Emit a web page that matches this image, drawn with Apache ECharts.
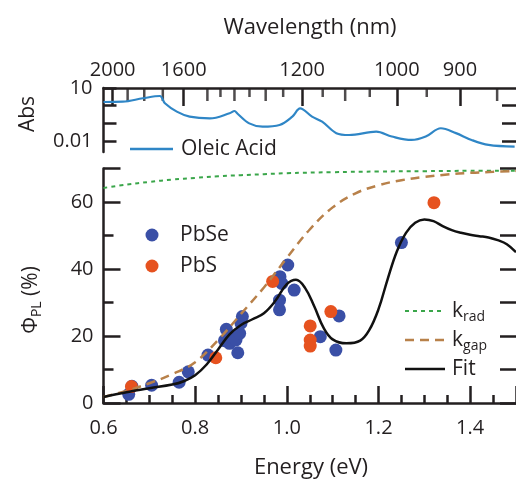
<!DOCTYPE html>
<html>
<head>
<meta charset="utf-8">
<script src="https://cdn.jsdelivr.net/npm/echarts@6/dist/echarts.min.js"></script>
<style>
  html, body { margin: 0; padding: 0; background: #fff; }
  #chart { width: 516px; height: 487px; }
</style>
</head>
<body>
<div id="chart"></div>
<script>
// Photoluminescence quantum yield vs photon energy, with the ligand absorption on top.
const HC = 1240; // eV·nm

// Bottom panel axis settings
const energyMin = 0.6, energyMax = 1.5, energyStep = 0.2;
const phiMin = 0, phiMax = 70, phiStep = 20;

// Top panel: wavelength ticks (nm) and absorbance ticks
const wavelengthMajor = [2000, 1600, 1200, 1000, 900];
const wavelengthMedium = [1900, 1800, 1700, 1500, 1400, 1300, 1100, 850];
const wavelengthMinor = [1450, 1350, 1250, 1150, 1050, 950];
const absTicks = [10, 1, 0.1, 0.01];
const absLabels = [10, 0.01];

// Measured PL quantum yields
const pbseEnergy = [0.655, 0.662, 0.705, 0.765, 0.785, 0.828, 0.864, 0.868, 0.875, 0.881, 0.889, 0.893, 0.897, 0.900, 0.903,
                    0.984, 0.984, 0.985, 0.989, 1.002, 1.016, 1.073, 1.107, 1.114, 1.250];
const pbsePhi =    [2.6, 5.0, 5.3, 6.2, 9.3, 14.3, 18.6, 22.0, 17.8, 19.5, 18.8, 15.0, 20.8, 23.8, 25.8,
                    27.8, 30.7, 37.7, 35.7, 41.2, 33.7, 19.8, 15.8, 26.0, 47.9];
const pbsEnergy = [0.661, 0.845, 0.969, 1.051, 1.051, 1.051, 1.096, 1.321];
const pbsPhi =    [4.9, 13.5, 36.3, 23.0, 18.8, 17.0, 27.3, 59.8];

// Model curves
const kradEnergy = [0.6, 0.65, 0.7, 0.75, 0.8, 0.85, 0.9, 0.95, 1.0, 1.1, 1.2, 1.3, 1.4, 1.5];
const kradPhi =    [64.2, 65.2, 66.0, 66.7, 67.2, 67.7, 68.0, 68.3, 68.6, 68.9, 69.1, 69.2, 69.3, 69.3];
const kgapEnergy = [0.6, 0.65, 0.7, 0.75, 0.8, 0.85, 0.9, 0.95, 1.0, 1.05, 1.1, 1.15, 1.2, 1.25, 1.3, 1.35, 1.4, 1.45, 1.5];
const kgapPhi =    [1.8, 3.6, 5.9, 8.6, 12.2, 18.8, 26.6, 34.5, 43.3, 51.8, 58.4, 62.6, 65.0, 66.5, 67.5, 68.2, 68.7, 69.0, 69.3];
const fitEnergy = [0.6, 0.65, 0.7, 0.75, 0.775, 0.8, 0.825, 0.85, 0.875, 0.9, 0.925, 0.95, 0.975, 1.0, 1.02, 1.04, 1.06, 1.08,
                   1.1, 1.13, 1.16, 1.18, 1.2, 1.22, 1.24, 1.26, 1.28, 1.3, 1.32, 1.34, 1.36, 1.38, 1.4, 1.42, 1.44, 1.46, 1.48, 1.5];
const fitPhi =    [1.8, 3.2, 4.4, 5.5, 6.5, 8.3, 11.5, 16.0, 20.5, 23.3, 25.0, 26.8, 30.5, 35.5, 36.8, 34.3, 28.8, 22.5,
                   19.0, 17.8, 18.6, 21.8, 28.0, 37.0, 45.2, 50.8, 53.8, 54.8, 54.3, 52.8, 51.6, 50.8, 50.2, 49.8, 49.4, 48.6, 47.4, 45.0];

// Oleic acid absorbance
const oaEnergy = [0.600, 0.642, 0.686, 0.723, 0.734, 0.760, 0.788, 0.832, 0.875, 0.886, 0.892, 0.918, 0.947, 0.984, 1.012,
                  1.029, 1.055, 1.077, 1.108, 1.136, 1.195, 1.229, 1.272, 1.303, 1.336, 1.369, 1.403, 1.440, 1.497];
const oaAbs =    [1.62, 1.68, 2.62, 3.53, 1.37, 0.46, 0.24, 0.19, 0.37, 0.50, 0.36, 0.10, 0.065, 0.081, 0.24,
                  0.70, 0.24, 0.125, 0.028, 0.022, 0.034, 0.018, 0.0115, 0.018, 0.053, 0.028, 0.0115, 0.006, 0.0048];

const pairs = (xs, ys, f) => xs.map((x, i) => [x, f ? f(ys[i]) : ys[i]]);

const FONT = '"Open Sans", "Noto Sans", sans-serif';
const INK = '#231f20';
const AXW = 2.5;
const ABS_MIN = -2.62, ABS_MAX = 1; // log10 range of the absorbance panel
const C_PBSE = '#3a4fa6', C_PBS = '#e6521f', C_OA = '#2f86c6';
const C_KRAD = '#3aa64a', C_KGAP = '#b8814a', C_FIT = '#111';
const DASH_KRAD = [4, 4], DASH_KGAP = [9, 6];

const chart = echarts.init(document.getElementById('chart'));

const tickStyle = { color: INK, width: AXW };
const axisLine = show => ({ show, onZero: false, lineStyle: { color: INK, width: AXW } });
const lbl = extra => Object.assign({ show: true, color: INK, fontFamily: FONT, fontSize: 20 }, extra);

const subRich = {
  n: { fontFamily: FONT, fontSize: 21, fill: INK, color: INK },
  s: { fontFamily: FONT, fontSize: 14, fill: INK, color: INK, padding: [12, 0, 0, 0] }
};

// Short tick marks hanging from the wavelength axis, placed through the top panel's scales
const hangingTicks = (list, len) => ({
  type: 'scatter', xAxisIndex: 1, yAxisIndex: 2, silent: true, clip: false,
  data: list.map(w => [HC / w, ABS_MAX]),
  symbol: 'rect', symbolSize: [AXW, len], symbolOffset: [0, len / 2],
  itemStyle: { color: INK }
});

// Titles and keys
const label = (text, x, y, opts) => Object.assign({
  type: 'text', x, y, silent: true,
  style: Object.assign({ text, fontFamily: FONT, fontSize: 21, fill: INK, align: 'left', verticalAlign: 'middle' }, opts || {})
});
const keyLine = (x1, x2, y, stroke, width, dash) => ({
  type: 'line', silent: true, shape: { x1, y1: y, x2, y2: y },
  style: { stroke, lineWidth: width, lineDash: dash || null }
});
const keyDot = (x, y, fill) => ({ type: 'circle', silent: true, x, y, shape: { cx: 0, cy: 0, r: 6.5 }, style: { fill } });

const graphic = [
  label('Wavelength (nm)', 310, 28, { fontSize: 22, align: 'center' }),
  label('Energy (eV)', 311, 468, { fontSize: 22, align: 'center' }),
  Object.assign(label('Abs', 28, 114, { align: 'center' }), { rotation: Math.PI / 2 }),
  Object.assign(label('{n|Φ}{s|PL}{n| (%)}', 31, 300, { align: 'center', rich: subRich }), { rotation: Math.PI / 2 }),
  keyLine(130, 173, 149, C_OA, 2.5),
  label('Oleic Acid', 181, 149),
  keyDot(152, 235, C_PBSE),
  label('PbSe', 180, 235),
  keyDot(152, 266, C_PBS),
  label('PbS', 180, 266),
  keyLine(405, 445, 311, C_KRAD, 2, DASH_KRAD),
  label('{n|k}{s|rad}', 452, 311, { rich: subRich }),
  keyLine(405, 445, 340, C_KGAP, 2.5, DASH_KGAP),
  label('{n|k}{s|gap}', 452, 340, { rich: subRich }),
  keyLine(405, 445, 369, C_FIT, 2.5),
  label('Fit', 452, 369)
];

const option = {
  animation: false,
  grid: [
    { left: 103.5, top: 88, width: 414, height: 64 },
    { left: 103.5, top: 168.5, width: 414, height: 234.5 }
  ],
  xAxis: [
    { // energy, bottom panel
      type: 'value', gridIndex: 1, position: 'bottom', min: energyMin, max: energyMax, interval: energyStep,
      axisLine: axisLine(true),
      axisTick: { show: true, inside: true, length: 17, lineStyle: tickStyle },
      minorTick: { show: true, splitNumber: 4, length: 8, lineStyle: tickStyle },
      axisLabel: lbl({ margin: 15, showMaxLabel: false, formatter: v => v.toFixed(1) }),
      splitLine: { show: false }, minorSplitLine: { show: false }
    },
    { // wavelength, top panel
      type: 'value', gridIndex: 0, position: 'top', min: energyMin, max: energyMax,
      axisLine: axisLine(true),
      axisTick: { show: true, inside: true, length: 18, lineStyle: tickStyle, customValues: wavelengthMajor.map(w => HC / w) },
      axisLabel: lbl({ margin: 8, customValues: wavelengthMajor.map(w => HC / w), formatter: v => String(Math.round(HC / v)) }),
      splitLine: { show: false }
    }
  ],
  yAxis: [
    { // PL yield, left
      type: 'value', gridIndex: 1, position: 'left', min: phiMin, max: phiMax, interval: phiStep,
      axisLine: axisLine(true),
      axisTick: { show: true, inside: true, length: 17, lineStyle: tickStyle },
      minorTick: { show: true, splitNumber: 2, length: 10, lineStyle: tickStyle },
      axisLabel: lbl({ margin: 10, showMaxLabel: false }),
      splitLine: { show: false }, minorSplitLine: { show: false }
    },
    { // PL yield, right ticks only
      type: 'value', gridIndex: 1, position: 'right', min: phiMin, max: phiMax, interval: 10,
      axisLine: axisLine(false),
      axisTick: { show: true, inside: true, length: 16, lineStyle: tickStyle },
      axisLabel: { show: false }, splitLine: { show: false }
    },
    { // absorbance (log10), left
      type: 'value', gridIndex: 0, position: 'left', min: ABS_MIN, max: ABS_MAX,
      axisLine: axisLine(true),
      axisTick: { show: true, inside: true, length: 13, lineStyle: tickStyle, customValues: absTicks.map(Math.log10) },
      axisLabel: lbl({ margin: 11, customValues: absLabels.map(Math.log10),
        formatter: v => String(Math.round(Math.pow(10, v) * 100) / 100) }),
      splitLine: { show: false }
    },
    { // absorbance, right ticks only
      type: 'value', gridIndex: 0, position: 'right', min: ABS_MIN, max: ABS_MAX,
      axisLine: axisLine(false),
      axisTick: { show: true, inside: true, length: 14, lineStyle: tickStyle, customValues: absTicks.slice(1).map(Math.log10) },
      axisLabel: { show: false }, splitLine: { show: false }
    }
  ],
  graphic,
  series: [
    {
      type: 'line', xAxisIndex: 1, yAxisIndex: 2,
      data: pairs(oaEnergy, oaAbs, Math.log10),
      smooth: 0.35, symbol: 'none',
      lineStyle: { color: C_OA, width: 2.2 }
    },
    hangingTicks(wavelengthMedium, 13),
    hangingTicks(wavelengthMinor, 9),
    {
      type: 'scatter', xAxisIndex: 0, yAxisIndex: 0,
      data: pairs(pbseEnergy, pbsePhi), symbolSize: 13,
      itemStyle: { color: C_PBSE, opacity: 1 }
    },
    {
      type: 'scatter', xAxisIndex: 0, yAxisIndex: 0,
      data: pairs(pbsEnergy, pbsPhi), symbolSize: 13,
      itemStyle: { color: C_PBS, opacity: 1 }
    },
    {
      type: 'line', xAxisIndex: 0, yAxisIndex: 0,
      data: pairs(kradEnergy, kradPhi), smooth: 0.4, symbol: 'none',
      lineStyle: { color: C_KRAD, width: 2, type: DASH_KRAD }
    },
    {
      type: 'line', xAxisIndex: 0, yAxisIndex: 0,
      data: pairs(kgapEnergy, kgapPhi), smooth: 0.4, symbol: 'none',
      lineStyle: { color: C_KGAP, width: 2.5, type: DASH_KGAP }
    },
    {
      type: 'line', xAxisIndex: 0, yAxisIndex: 0,
      data: pairs(fitEnergy, fitPhi), smooth: 0.4, symbol: 'none',
      lineStyle: { color: C_FIT, width: 2.5 }
    }
  ]
};

chart.setOption(option);
</script>
</body>
</html>
